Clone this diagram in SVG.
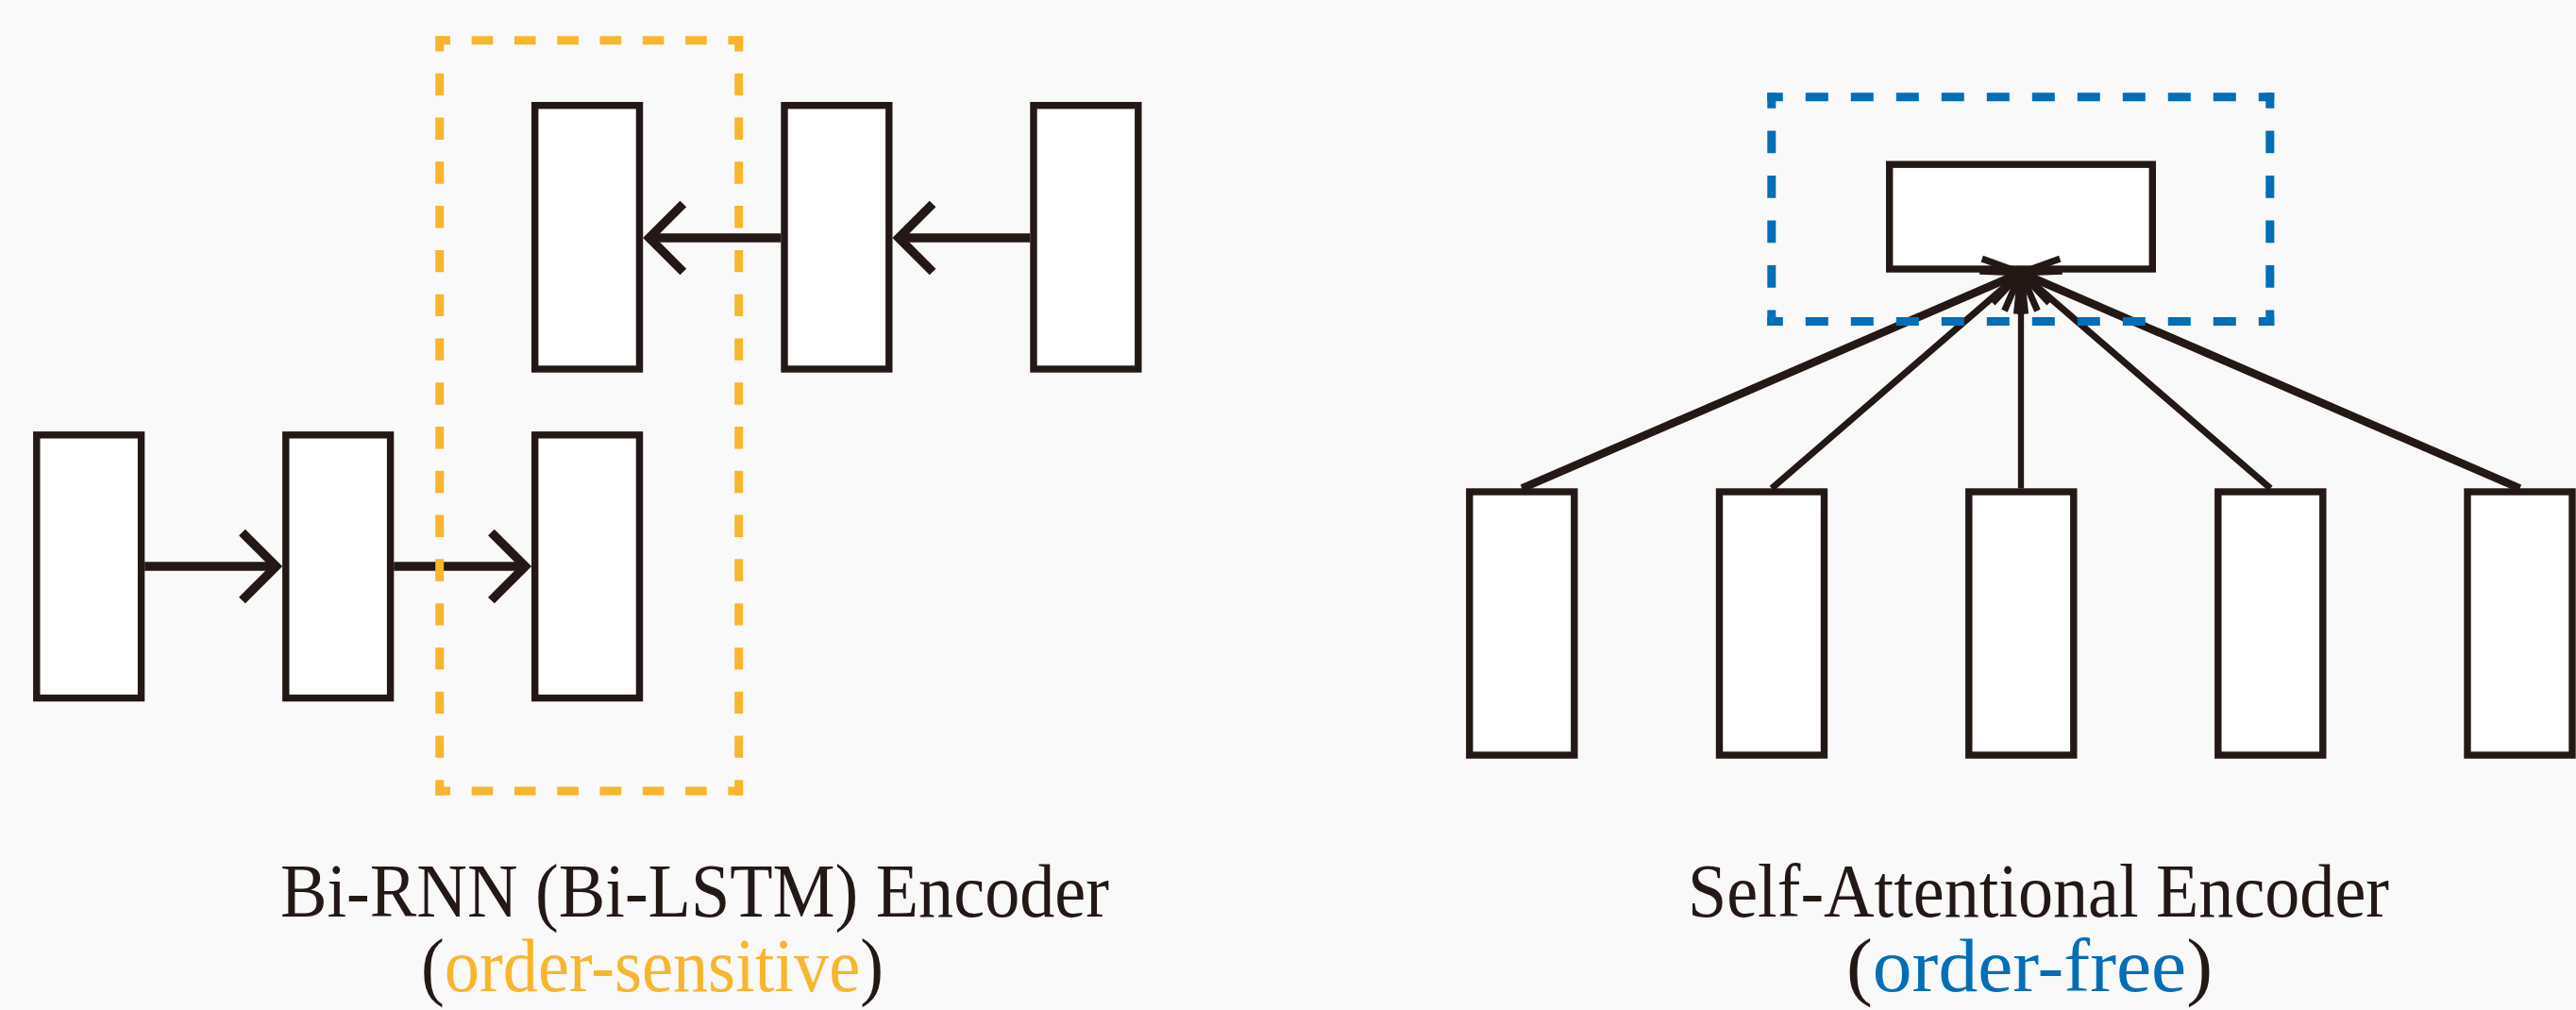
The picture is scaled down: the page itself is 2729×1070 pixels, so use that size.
<svg xmlns="http://www.w3.org/2000/svg" width="2729" height="1070" viewBox="0 0 2729 1070">
<style>
.node{fill:#ffffff;stroke:#231815;stroke-width:7.4}
.connL{stroke:#231815;stroke-width:9.5;fill:none}
.connR{stroke:#231815;fill:none}
.dashO{stroke:#F8B62D;stroke-width:9;fill:none}
.dashB{stroke:#036EB8;stroke-width:9;fill:none}
.lbl{font-family:"Liberation Serif","Times New Roman",serif;font-size:80px;fill:#231815}
</style>
<defs>
<marker id="arrowL" markerUnits="userSpaceOnUse" viewBox="-50 -50 70 100" markerWidth="70" markerHeight="100" refX="0" refY="0" orient="auto" overflow="visible">
<path d="M-36,-36 L0,0 L-36,36" fill="none" stroke="#231815" stroke-width="9.5" stroke-linejoin="miter"/>
</marker>
<marker id="arrowR" markerUnits="userSpaceOnUse" viewBox="-50 -50 70 100" markerWidth="70" markerHeight="100" refX="0" refY="0" orient="auto" overflow="visible">
<path d="M-32,-30 L0,0 L-32,30" fill="none" stroke="#231815" stroke-width="7" stroke-linejoin="miter"/>
</marker>
</defs>
<rect width="2729" height="1070" fill="#F9F9F9"/>
<g id="rnn-nodes">
<rect id="rnn-f1" class="node" x="38.8" y="460.8" width="110.8" height="278.7"/>
<rect id="rnn-f2" class="node" x="302.8" y="460.8" width="110.8" height="278.7"/>
<rect id="rnn-f3" class="node" x="566.7" y="460.8" width="110.8" height="278.7"/>
<rect id="rnn-b3" class="node" x="566.7" y="111.7" width="110.8" height="279.3"/>
<rect id="rnn-b2" class="node" x="831" y="111.7" width="110.8" height="279.3"/>
<rect id="rnn-b1" class="node" x="1095" y="111.7" width="110.8" height="279.3"/>
</g>
<g id="sa-nodes">
<rect id="sa-out" class="node" x="2001.7" y="174.2" width="278.6" height="110.8"/>
<rect id="sa-in1" class="node" x="1556.8" y="521" width="111" height="279"/>
<rect id="sa-in2" class="node" x="1821.5" y="521" width="111" height="279"/>
<rect id="sa-in3" class="node" x="2085.8" y="521" width="111" height="279"/>
<rect id="sa-in4" class="node" x="2349.8" y="521" width="111" height="279"/>
<rect id="sa-in5" class="node" x="2614" y="521" width="111" height="279"/>
</g>
<g id="connectors">
<line class="connL" x1="153.2" y1="600" x2="292.5" y2="600" marker-end="url(#arrowL)"/>
<line class="connL" x1="417.2" y1="600" x2="556.4" y2="600" marker-end="url(#arrowL)"/>
<line class="connL" x1="1091.4" y1="252" x2="952.1" y2="252" marker-end="url(#arrowL)"/>
<line class="connL" x1="827.4" y1="252" x2="687.8" y2="252" marker-end="url(#arrowL)"/>
<line class="connR" stroke-width="8.5" x1="1612.3" y1="517.4" x2="2141" y2="289" marker-end="url(#arrowR)"/>
<line class="connR" stroke-width="7" x1="1877" y1="517.4" x2="2141" y2="289" marker-end="url(#arrowR)"/>
<line class="connR" stroke-width="6.3" x1="2141" y1="517.4" x2="2141" y2="289" marker-end="url(#arrowR)"/>
<line class="connR" stroke-width="7" x1="2405.3" y1="517.4" x2="2141" y2="289" marker-end="url(#arrowR)"/>
<line class="connR" stroke-width="8.5" x1="2669.5" y1="517.4" x2="2141" y2="289" marker-end="url(#arrowR)"/>
</g>
<g id="rnn-group">
<line class="dashO" x1="461.2" y1="42.7" x2="787.2" y2="42.7" stroke-dasharray="22.64 22.64" stroke-dashoffset="6.82"/>
<line class="dashO" x1="461.2" y1="838" x2="787.2" y2="838" stroke-dasharray="22.64 22.64" stroke-dashoffset="6.82"/>
<line class="dashO" x1="465.7" y1="38.2" x2="465.7" y2="842.5" stroke-dasharray="23.39 23.39" stroke-dashoffset="7.2"/>
<line class="dashO" x1="782.7" y1="38.2" x2="782.7" y2="842.5" stroke-dasharray="23.39 23.39" stroke-dashoffset="7.2"/>
</g>
<g id="sa-group">
<line class="dashB" x1="1872.3" y1="102.8" x2="2409.3" y2="102.8" stroke-dasharray="24 24" stroke-dashoffset="7.5"/>
<line class="dashB" x1="1872.3" y1="340.5" x2="2409.3" y2="340.5" stroke-dasharray="24 24" stroke-dashoffset="7.5"/>
<line class="dashB" x1="1876.8" y1="98.3" x2="1876.8" y2="345" stroke-dasharray="23.77 23.77" stroke-dashoffset="7.385"/>
<line class="dashB" x1="2404.8" y1="98.3" x2="2404.8" y2="345" stroke-dasharray="23.77 23.77" stroke-dashoffset="7.385"/>
</g>
<g id="labels">
<text class="lbl" x="297" y="971" textLength="878" lengthAdjust="spacingAndGlyphs">Bi-RNN (Bi-LSTM) Encoder</text>
<text class="lbl" x="446" y="1050" textLength="490" lengthAdjust="spacingAndGlyphs">(<tspan fill="#F8B62D">order-sensitive</tspan>)</text>
<text class="lbl" x="1788" y="971" textLength="743" lengthAdjust="spacingAndGlyphs">Self-Attentional Encoder</text>
<text class="lbl" x="1956" y="1050" textLength="388" lengthAdjust="spacingAndGlyphs">(<tspan fill="#036EB8">order-free</tspan>)</text>
</g>
</svg>
